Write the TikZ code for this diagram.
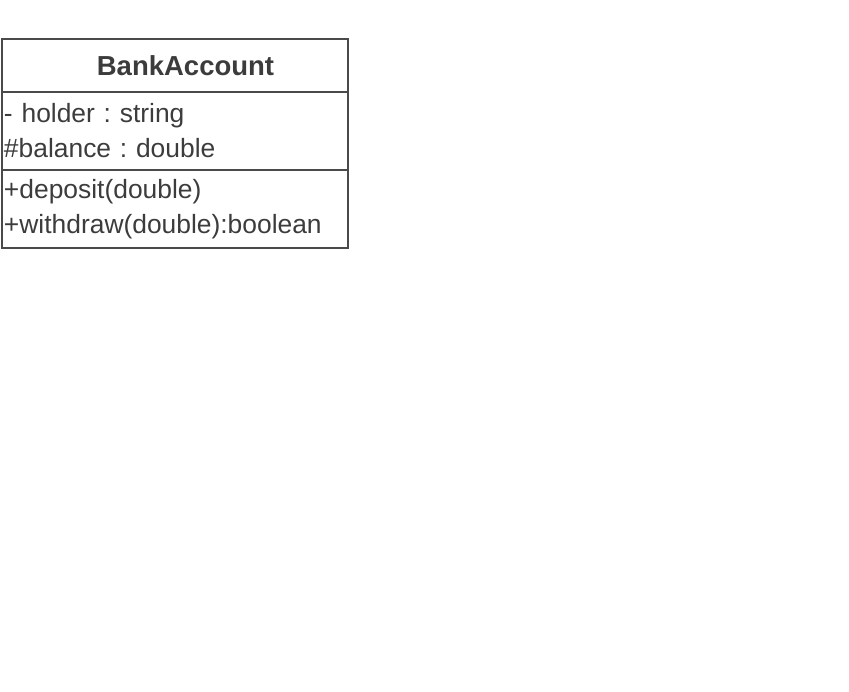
\documentclass[tikz,border=0pt]{standalone}
\usepackage{fontspec}
\setmainfont{Liberation Sans}
\usetikzlibrary{positioning}
\definecolor{linegray}{HTML}{4A4A4A}
\definecolor{textgray}{HTML}{3C3C3C}
\frenchspacing

\begin{document}
\begin{tikzpicture}[
        x=1pt, y=-1pt,
        every node/.style={text=textgray, font=\fontsize{26.4}{35}\selectfont},
        classpart/.style={draw=linegray, line width=2pt, minimum width=346pt,
            inner xsep=2pt, inner ysep=0pt, outer sep=0pt},
        members/.style={classpart, minimum height=78pt, align=left,
            text width=342pt}
        ]
        \useasboundingbox (0,0) rectangle (849,692);

        % class box
        \node[classpart, minimum height=53pt, text width=342pt, align=center,
            font=\fontsize{27.5}{35}\selectfont\bfseries]
            (title) at (175,65.5) {\hspace*{21pt}BankAccount};
        \node[members, below=0pt of title] (attrs)
            {- holder : string\\\#balance : double};
        \node[members, below=0pt of attrs] (ops)
            {+deposit(double)\\+withdraw(double):boolean};
    \end{tikzpicture}
\end{document}
